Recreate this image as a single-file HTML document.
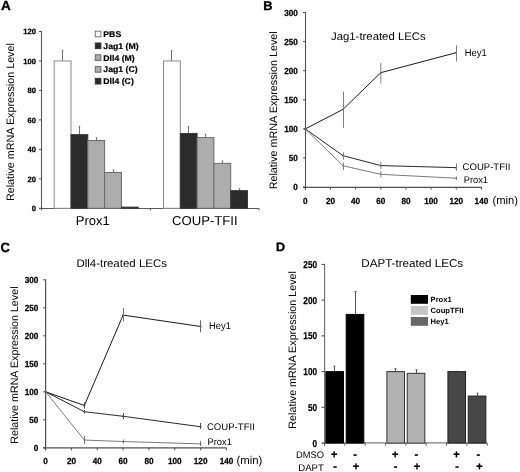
<!DOCTYPE html>
<html><head><meta charset="utf-8"><style>
html,body{margin:0;padding:0;background:#fff;}
body{width:520px;height:472px;overflow:hidden;}
svg{display:block;text-rendering:geometricPrecision;font-family:"Liberation Sans",sans-serif;filter:grayscale(1);}
</style></head><body>
<svg width="520" height="472" viewBox="0 0 520 472">
<rect width="520" height="472" fill="#fff"/>
<text transform="translate(1,10.3) scale(1.03,1)" font-size="13.2" font-weight="bold" text-anchor="start" fill="#000" stroke="#000" stroke-width="0.3" >A</text>
<line x1="41.5" y1="31" x2="41.5" y2="210.3" stroke="#5a5a5a" stroke-width="1.1" />
<line x1="39" y1="208.3" x2="41.5" y2="208.3" stroke="#505050" stroke-width="1" />
<text x="36" y="211" font-size="7.6" font-weight="bold" text-anchor="end" fill="#000" stroke="#000" stroke-width="0.25" >0</text>
<line x1="39" y1="178.83" x2="41.5" y2="178.83" stroke="#505050" stroke-width="1" />
<text x="36" y="181.53" font-size="7.6" font-weight="bold" text-anchor="end" fill="#000" stroke="#000" stroke-width="0.25" >20</text>
<line x1="39" y1="149.37" x2="41.5" y2="149.37" stroke="#505050" stroke-width="1" />
<text x="36" y="152.07" font-size="7.6" font-weight="bold" text-anchor="end" fill="#000" stroke="#000" stroke-width="0.25" >40</text>
<line x1="39" y1="119.9" x2="41.5" y2="119.9" stroke="#505050" stroke-width="1" />
<text x="36" y="122.6" font-size="7.6" font-weight="bold" text-anchor="end" fill="#000" stroke="#000" stroke-width="0.25" >60</text>
<line x1="39" y1="90.44" x2="41.5" y2="90.44" stroke="#505050" stroke-width="1" />
<text x="36" y="93.14" font-size="7.6" font-weight="bold" text-anchor="end" fill="#000" stroke="#000" stroke-width="0.25" >80</text>
<line x1="39" y1="60.97" x2="41.5" y2="60.97" stroke="#505050" stroke-width="1" />
<text x="36" y="63.67" font-size="7.6" font-weight="bold" text-anchor="end" fill="#000" stroke="#000" stroke-width="0.25" >100</text>
<line x1="39" y1="31.5" x2="41.5" y2="31.5" stroke="#505050" stroke-width="1" />
<text x="36" y="34.2" font-size="7.6" font-weight="bold" text-anchor="end" fill="#000" stroke="#000" stroke-width="0.25" >120</text>
<line x1="39" y1="208.5" x2="259" y2="208.5" stroke="#5a5a5a" stroke-width="1.1" />
<line x1="150.5" y1="208.3" x2="150.5" y2="210.3" stroke="#505050" stroke-width="1" />
<line x1="259" y1="208.3" x2="259" y2="210.3" stroke="#505050" stroke-width="1" />
<text transform="translate(13.5,122.1) rotate(-90)" font-size="10.77" font-weight="normal" text-anchor="middle" fill="#000">Relative mRNA Expression Level</text>
<line x1="62.5" y1="60.97" x2="62.5" y2="50.66" stroke="#707070" stroke-width="1" />
<line x1="61.7" y1="50.66" x2="63.3" y2="50.66" stroke="#707070" stroke-width="1" />
<rect x="54.2" y="60.97" width="16.8" height="147.33" fill="#ffffff" stroke="#8a8a8a" stroke-width="1"/>
<line x1="79.5" y1="134.63" x2="79.5" y2="126.24" stroke="#707070" stroke-width="1" />
<line x1="78.7" y1="126.24" x2="80.3" y2="126.24" stroke="#707070" stroke-width="1" />
<rect x="71" y="134.63" width="16.8" height="73.67" fill="#2b2b2b" stroke="#3a3a3a" stroke-width="1"/>
<line x1="96.5" y1="140.53" x2="96.5" y2="137.73" stroke="#707070" stroke-width="1" />
<line x1="95.7" y1="137.73" x2="97.3" y2="137.73" stroke="#707070" stroke-width="1" />
<rect x="87.8" y="140.53" width="16.8" height="67.77" fill="#adadad" stroke="#6a6a6a" stroke-width="1"/>
<line x1="113.5" y1="172.5" x2="113.5" y2="169.99" stroke="#707070" stroke-width="1" />
<line x1="112.7" y1="169.99" x2="114.3" y2="169.99" stroke="#707070" stroke-width="1" />
<rect x="104.6" y="172.5" width="16.8" height="35.8" fill="#adadad" stroke="#6a6a6a" stroke-width="1"/>
<rect x="121.4" y="207.12" width="16.8" height="1.18" fill="#2b2b2b" stroke="#3a3a3a" stroke-width="1"/>
<line x1="171.5" y1="60.97" x2="171.5" y2="50.66" stroke="#707070" stroke-width="1" />
<line x1="170.7" y1="50.66" x2="172.3" y2="50.66" stroke="#707070" stroke-width="1" />
<rect x="163.5" y="60.97" width="16.8" height="147.33" fill="#ffffff" stroke="#8a8a8a" stroke-width="1"/>
<line x1="188.5" y1="133.46" x2="188.5" y2="126.68" stroke="#707070" stroke-width="1" />
<line x1="187.7" y1="126.68" x2="189.3" y2="126.68" stroke="#707070" stroke-width="1" />
<rect x="180.3" y="133.46" width="16.8" height="74.84" fill="#2b2b2b" stroke="#3a3a3a" stroke-width="1"/>
<line x1="205.5" y1="137.58" x2="205.5" y2="134.34" stroke="#707070" stroke-width="1" />
<line x1="204.7" y1="134.34" x2="206.3" y2="134.34" stroke="#707070" stroke-width="1" />
<rect x="197.1" y="137.58" width="16.8" height="70.72" fill="#adadad" stroke="#6a6a6a" stroke-width="1"/>
<line x1="222.5" y1="163.36" x2="222.5" y2="161.01" stroke="#707070" stroke-width="1" />
<line x1="221.7" y1="161.01" x2="223.3" y2="161.01" stroke="#707070" stroke-width="1" />
<rect x="213.9" y="163.36" width="16.8" height="44.94" fill="#adadad" stroke="#6a6a6a" stroke-width="1"/>
<line x1="239.5" y1="190.62" x2="239.5" y2="188.85" stroke="#707070" stroke-width="1" />
<line x1="238.7" y1="188.85" x2="240.3" y2="188.85" stroke="#707070" stroke-width="1" />
<rect x="230.7" y="190.62" width="16.8" height="17.68" fill="#2b2b2b" stroke="#3a3a3a" stroke-width="1"/>
<rect x="95.3" y="31.2" width="5.6" height="5.6" fill="#ffffff" stroke="#777" stroke-width="1"/>
<text transform="translate(103.3,37) scale(1.04,1)" font-size="8.4" font-weight="bold" text-anchor="start" fill="#000" stroke="#000" stroke-width="0.2" >PBS</text>
<rect x="95.3" y="43" width="5.6" height="5.6" fill="#2b2b2b" stroke="#333" stroke-width="1"/>
<text transform="translate(103.3,48.8) scale(1.04,1)" font-size="8.4" font-weight="bold" text-anchor="start" fill="#000" stroke="#000" stroke-width="0.2" >Jag1 (M)</text>
<rect x="95.3" y="54.8" width="5.6" height="5.6" fill="#adadad" stroke="#666" stroke-width="1"/>
<text transform="translate(103.3,60.6) scale(1.04,1)" font-size="8.4" font-weight="bold" text-anchor="start" fill="#000" stroke="#000" stroke-width="0.2" >Dll4 (M)</text>
<rect x="95.3" y="66.6" width="5.6" height="5.6" fill="#adadad" stroke="#666" stroke-width="1"/>
<text transform="translate(103.3,72.4) scale(1.04,1)" font-size="8.4" font-weight="bold" text-anchor="start" fill="#000" stroke="#000" stroke-width="0.2" >Jag1 (C)</text>
<rect x="95.3" y="78.4" width="5.6" height="5.6" fill="#2b2b2b" stroke="#333" stroke-width="1"/>
<text transform="translate(103.3,84.2) scale(1.04,1)" font-size="8.4" font-weight="bold" text-anchor="start" fill="#000" stroke="#000" stroke-width="0.2" >Dll4 (C)</text>
<text transform="translate(92.8,224.8) scale(1.01,1)" font-size="12.9" font-weight="normal" text-anchor="middle" fill="#000" >Prox1</text>
<text transform="translate(204.8,224.8) scale(1.02,1)" font-size="12.9" font-weight="normal" text-anchor="middle" fill="#000" >COUP-TFII</text>
<text transform="translate(263.2,10.3) scale(1.02,1)" font-size="12.6" font-weight="bold" text-anchor="start" fill="#000" stroke="#000" stroke-width="0.35" >B</text>
<line x1="305.5" y1="12" x2="305.5" y2="189.6" stroke="#505050" stroke-width="1.1" />
<line x1="303" y1="187.1" x2="305.3" y2="187.1" stroke="#505050" stroke-width="1" />
<text transform="translate(297.8,190.2) scale(0.93,1)" font-size="8.8" font-weight="bold" text-anchor="end" fill="#000" stroke="#000" stroke-width="0.25" >0</text>
<line x1="303" y1="158" x2="305.3" y2="158" stroke="#505050" stroke-width="1" />
<text transform="translate(297.8,161.1) scale(0.93,1)" font-size="8.8" font-weight="bold" text-anchor="end" fill="#000" stroke="#000" stroke-width="0.25" >50</text>
<line x1="303" y1="128.9" x2="305.3" y2="128.9" stroke="#505050" stroke-width="1" />
<text transform="translate(297.8,132) scale(0.93,1)" font-size="8.8" font-weight="bold" text-anchor="end" fill="#000" stroke="#000" stroke-width="0.25" >100</text>
<line x1="303" y1="99.8" x2="305.3" y2="99.8" stroke="#505050" stroke-width="1" />
<text transform="translate(297.8,102.9) scale(0.93,1)" font-size="8.8" font-weight="bold" text-anchor="end" fill="#000" stroke="#000" stroke-width="0.25" >150</text>
<line x1="303" y1="70.7" x2="305.3" y2="70.7" stroke="#505050" stroke-width="1" />
<text transform="translate(297.8,73.8) scale(0.93,1)" font-size="8.8" font-weight="bold" text-anchor="end" fill="#000" stroke="#000" stroke-width="0.25" >200</text>
<line x1="303" y1="41.6" x2="305.3" y2="41.6" stroke="#505050" stroke-width="1" />
<text transform="translate(297.8,44.7) scale(0.93,1)" font-size="8.8" font-weight="bold" text-anchor="end" fill="#000" stroke="#000" stroke-width="0.25" >250</text>
<line x1="303" y1="12.5" x2="305.3" y2="12.5" stroke="#505050" stroke-width="1" />
<text transform="translate(297.8,15.6) scale(0.93,1)" font-size="8.8" font-weight="bold" text-anchor="end" fill="#000" stroke="#000" stroke-width="0.25" >300</text>
<line x1="303" y1="187.4" x2="481.42" y2="187.4" stroke="#505050" stroke-width="1.2" />
<line x1="305.3" y1="187.1" x2="305.3" y2="189.6" stroke="#505050" stroke-width="1" />
<text transform="translate(305.3,203.7) scale(0.93,1)" font-size="8.8" font-weight="bold" text-anchor="middle" fill="#000" stroke="#000" stroke-width="0.25" >0</text>
<line x1="330.46" y1="187.1" x2="330.46" y2="189.6" stroke="#505050" stroke-width="1" />
<text transform="translate(330.46,203.7) scale(0.93,1)" font-size="8.8" font-weight="bold" text-anchor="middle" fill="#000" stroke="#000" stroke-width="0.25" >20</text>
<line x1="355.62" y1="187.1" x2="355.62" y2="189.6" stroke="#505050" stroke-width="1" />
<text transform="translate(355.62,203.7) scale(0.93,1)" font-size="8.8" font-weight="bold" text-anchor="middle" fill="#000" stroke="#000" stroke-width="0.25" >40</text>
<line x1="380.78" y1="187.1" x2="380.78" y2="189.6" stroke="#505050" stroke-width="1" />
<text transform="translate(380.78,203.7) scale(0.93,1)" font-size="8.8" font-weight="bold" text-anchor="middle" fill="#000" stroke="#000" stroke-width="0.25" >60</text>
<line x1="405.94" y1="187.1" x2="405.94" y2="189.6" stroke="#505050" stroke-width="1" />
<text transform="translate(405.94,203.7) scale(0.93,1)" font-size="8.8" font-weight="bold" text-anchor="middle" fill="#000" stroke="#000" stroke-width="0.25" >80</text>
<line x1="431.1" y1="187.1" x2="431.1" y2="189.6" stroke="#505050" stroke-width="1" />
<text transform="translate(431.1,203.7) scale(0.93,1)" font-size="8.8" font-weight="bold" text-anchor="middle" fill="#000" stroke="#000" stroke-width="0.25" >100</text>
<line x1="456.26" y1="187.1" x2="456.26" y2="189.6" stroke="#505050" stroke-width="1" />
<text transform="translate(456.26,203.7) scale(0.93,1)" font-size="8.8" font-weight="bold" text-anchor="middle" fill="#000" stroke="#000" stroke-width="0.25" >120</text>
<line x1="481.42" y1="187.1" x2="481.42" y2="189.6" stroke="#505050" stroke-width="1" />
<text transform="translate(481.42,203.7) scale(0.93,1)" font-size="8.8" font-weight="bold" text-anchor="middle" fill="#000" stroke="#000" stroke-width="0.25" >140</text>
<text x="492.5" y="204.3" font-size="11.2" font-weight="normal" text-anchor="start" fill="#000" >(min)</text>
<text transform="translate(331,39.6) scale(1.032,1)" font-size="11" font-weight="normal" text-anchor="start" fill="#000" >Jag1-treated LECs</text>
<text transform="translate(276.9,110.3) rotate(-90)" font-size="10.78" font-weight="normal" text-anchor="middle" fill="#000">Relative mRNA Expression Level</text>
<polyline points="305.3,128.9 343.04,109.34 380.78,72.68 456.26,52.66" fill="none" stroke="#1a1a1a" stroke-width="1.0" stroke-linejoin="miter"/>
<circle cx="305.3" cy="128.9" r="0.9" fill="#1a1a1a"/>
<circle cx="343.04" cy="109.34" r="0.9" fill="#1a1a1a"/>
<circle cx="380.78" cy="72.68" r="0.9" fill="#1a1a1a"/>
<circle cx="456.26" cy="52.66" r="0.9" fill="#1a1a1a"/>
<line x1="343.5" y1="91.7" x2="343.5" y2="127.8" stroke="#808080" stroke-width="1" />
<line x1="380.8" y1="63.1" x2="380.8" y2="83.4" stroke="#909090" stroke-width="1.1" />
<line x1="456.5" y1="45.2" x2="456.5" y2="61.5" stroke="#808080" stroke-width="1" />
<polyline points="305.3,128.9 343.04,155.67 380.78,165.57 456.26,167.66" fill="none" stroke="#2a2a2a" stroke-width="1.0" stroke-linejoin="miter"/>
<circle cx="305.3" cy="128.9" r="0.9" fill="#2a2a2a"/>
<circle cx="343.04" cy="155.67" r="0.9" fill="#2a2a2a"/>
<circle cx="380.78" cy="165.57" r="0.9" fill="#2a2a2a"/>
<circle cx="456.26" cy="167.66" r="0.9" fill="#2a2a2a"/>
<line x1="343.5" y1="152.3" x2="343.5" y2="159.7" stroke="#808080" stroke-width="1" />
<line x1="380.8" y1="162" x2="380.8" y2="169" stroke="#909090" stroke-width="1.1" />
<line x1="456.5" y1="163.5" x2="456.5" y2="170.8" stroke="#808080" stroke-width="1" />
<polyline points="305.3,128.9 343.04,165.74 380.78,174.35 456.26,178.2" fill="none" stroke="#7a7a7a" stroke-width="1" stroke-linejoin="miter"/>
<circle cx="305.3" cy="128.9" r="0.9" fill="#7a7a7a"/>
<circle cx="343.04" cy="165.74" r="0.9" fill="#7a7a7a"/>
<circle cx="380.78" cy="174.35" r="0.9" fill="#7a7a7a"/>
<circle cx="456.26" cy="178.2" r="0.9" fill="#7a7a7a"/>
<line x1="343.5" y1="162.5" x2="343.5" y2="170" stroke="#808080" stroke-width="1" />
<line x1="380.8" y1="171" x2="380.8" y2="177.5" stroke="#909090" stroke-width="1.1" />
<line x1="456.5" y1="176.5" x2="456.5" y2="180" stroke="#808080" stroke-width="1" />
<text transform="translate(464.7,55.5) scale(0.965,1)" font-size="9.8" font-weight="normal" text-anchor="start" fill="#000" >Hey1</text>
<text transform="translate(462.6,170.3) scale(0.995,1)" font-size="9.6" font-weight="normal" text-anchor="start" fill="#000" >COUP-TFII</text>
<text transform="translate(463.8,183) scale(0.965,1)" font-size="9.6" font-weight="normal" text-anchor="start" fill="#000" >Prox1</text>
<text transform="translate(0.6,252.1) scale(0.97,1)" font-size="13.4" font-weight="bold" text-anchor="start" fill="#000" stroke="#000" stroke-width="0.35" >C</text>
<line x1="45.6" y1="279.3" x2="45.6" y2="450.3" stroke="#505050" stroke-width="1.2" />
<line x1="43.2" y1="447.8" x2="45.6" y2="447.8" stroke="#505050" stroke-width="1" />
<text transform="translate(38.3,450.9) scale(0.93,1)" font-size="8.8" font-weight="bold" text-anchor="end" fill="#000" stroke="#000" stroke-width="0.25" >0</text>
<line x1="43.2" y1="419.8" x2="45.6" y2="419.8" stroke="#505050" stroke-width="1" />
<text transform="translate(38.3,422.9) scale(0.93,1)" font-size="8.8" font-weight="bold" text-anchor="end" fill="#000" stroke="#000" stroke-width="0.25" >50</text>
<line x1="43.2" y1="391.8" x2="45.6" y2="391.8" stroke="#505050" stroke-width="1" />
<text transform="translate(38.3,394.9) scale(0.93,1)" font-size="8.8" font-weight="bold" text-anchor="end" fill="#000" stroke="#000" stroke-width="0.25" >100</text>
<line x1="43.2" y1="363.8" x2="45.6" y2="363.8" stroke="#505050" stroke-width="1" />
<text transform="translate(38.3,366.9) scale(0.93,1)" font-size="8.8" font-weight="bold" text-anchor="end" fill="#000" stroke="#000" stroke-width="0.25" >150</text>
<line x1="43.2" y1="335.8" x2="45.6" y2="335.8" stroke="#505050" stroke-width="1" />
<text transform="translate(38.3,338.9) scale(0.93,1)" font-size="8.8" font-weight="bold" text-anchor="end" fill="#000" stroke="#000" stroke-width="0.25" >200</text>
<line x1="43.2" y1="307.8" x2="45.6" y2="307.8" stroke="#505050" stroke-width="1" />
<text transform="translate(38.3,310.9) scale(0.93,1)" font-size="8.8" font-weight="bold" text-anchor="end" fill="#000" stroke="#000" stroke-width="0.25" >250</text>
<line x1="43.2" y1="279.8" x2="45.6" y2="279.8" stroke="#505050" stroke-width="1" />
<text transform="translate(38.3,282.9) scale(0.93,1)" font-size="8.8" font-weight="bold" text-anchor="end" fill="#000" stroke="#000" stroke-width="0.25" >300</text>
<line x1="43" y1="447.9" x2="226.48" y2="447.9" stroke="#505050" stroke-width="1.2" />
<line x1="45.6" y1="447.8" x2="45.6" y2="450.3" stroke="#505050" stroke-width="1" />
<text transform="translate(45.6,463.6) scale(0.93,1)" font-size="8.8" font-weight="bold" text-anchor="middle" fill="#000" stroke="#000" stroke-width="0.25" >0</text>
<line x1="71.44" y1="447.8" x2="71.44" y2="450.3" stroke="#505050" stroke-width="1" />
<text transform="translate(71.44,463.6) scale(0.93,1)" font-size="8.8" font-weight="bold" text-anchor="middle" fill="#000" stroke="#000" stroke-width="0.25" >20</text>
<line x1="97.28" y1="447.8" x2="97.28" y2="450.3" stroke="#505050" stroke-width="1" />
<text transform="translate(97.28,463.6) scale(0.93,1)" font-size="8.8" font-weight="bold" text-anchor="middle" fill="#000" stroke="#000" stroke-width="0.25" >40</text>
<line x1="123.12" y1="447.8" x2="123.12" y2="450.3" stroke="#505050" stroke-width="1" />
<text transform="translate(123.12,463.6) scale(0.93,1)" font-size="8.8" font-weight="bold" text-anchor="middle" fill="#000" stroke="#000" stroke-width="0.25" >60</text>
<line x1="148.96" y1="447.8" x2="148.96" y2="450.3" stroke="#505050" stroke-width="1" />
<text transform="translate(148.96,463.6) scale(0.93,1)" font-size="8.8" font-weight="bold" text-anchor="middle" fill="#000" stroke="#000" stroke-width="0.25" >80</text>
<line x1="174.8" y1="447.8" x2="174.8" y2="450.3" stroke="#505050" stroke-width="1" />
<text transform="translate(174.8,463.6) scale(0.93,1)" font-size="8.8" font-weight="bold" text-anchor="middle" fill="#000" stroke="#000" stroke-width="0.25" >100</text>
<line x1="200.64" y1="447.8" x2="200.64" y2="450.3" stroke="#505050" stroke-width="1" />
<text transform="translate(200.64,463.6) scale(0.93,1)" font-size="8.8" font-weight="bold" text-anchor="middle" fill="#000" stroke="#000" stroke-width="0.25" >120</text>
<line x1="226.48" y1="447.8" x2="226.48" y2="450.3" stroke="#505050" stroke-width="1" />
<text transform="translate(226.48,463.6) scale(0.93,1)" font-size="8.8" font-weight="bold" text-anchor="middle" fill="#000" stroke="#000" stroke-width="0.25" >140</text>
<text x="236.4" y="464.2" font-size="11.4" font-weight="normal" text-anchor="start" fill="#000" >(min)</text>
<text transform="translate(76.4,267.3) scale(1.034,1)" font-size="11.1" font-weight="normal" text-anchor="start" fill="#000" >Dll4-treated LECs</text>
<text transform="translate(18.1,365.1) rotate(-90)" font-size="10.73" font-weight="normal" text-anchor="middle" fill="#000">Relative mRNA Expression Level</text>
<polyline points="45.6,391.8 84.36,405.46 123.12,315.08 200.64,326.5" fill="none" stroke="#1a1a1a" stroke-width="1.0" stroke-linejoin="miter"/>
<circle cx="45.6" cy="391.8" r="0.9" fill="#1a1a1a"/>
<circle cx="84.36" cy="405.46" r="0.9" fill="#1a1a1a"/>
<circle cx="123.12" cy="315.08" r="0.9" fill="#1a1a1a"/>
<circle cx="200.64" cy="326.5" r="0.9" fill="#1a1a1a"/>
<line x1="84.5" y1="402.5" x2="84.5" y2="408.5" stroke="#444" stroke-width="1" />
<line x1="123.5" y1="308" x2="123.5" y2="321.6" stroke="#777" stroke-width="1" />
<line x1="200.5" y1="320.3" x2="200.5" y2="332.3" stroke="#666" stroke-width="1" />
<polyline points="45.6,391.8 84.36,411.74 123.12,416.27 200.64,426.74" fill="none" stroke="#2a2a2a" stroke-width="1.0" stroke-linejoin="miter"/>
<circle cx="45.6" cy="391.8" r="0.9" fill="#2a2a2a"/>
<circle cx="84.36" cy="411.74" r="0.9" fill="#2a2a2a"/>
<circle cx="123.12" cy="416.27" r="0.9" fill="#2a2a2a"/>
<circle cx="200.64" cy="426.74" r="0.9" fill="#2a2a2a"/>
<line x1="84.5" y1="410" x2="84.5" y2="413.5" stroke="#444" stroke-width="1" />
<line x1="123.5" y1="413" x2="123.5" y2="419.4" stroke="#555" stroke-width="1" />
<line x1="200.5" y1="423" x2="200.5" y2="429" stroke="#555" stroke-width="1" />
<polyline points="45.6,391.8 84.36,440.07 123.12,441.53 200.64,443.88" fill="none" stroke="#7a7a7a" stroke-width="1" stroke-linejoin="miter"/>
<circle cx="45.6" cy="391.8" r="0.9" fill="#7a7a7a"/>
<circle cx="84.36" cy="440.07" r="0.9" fill="#7a7a7a"/>
<circle cx="123.12" cy="441.53" r="0.9" fill="#7a7a7a"/>
<circle cx="200.64" cy="443.88" r="0.9" fill="#7a7a7a"/>
<line x1="84.5" y1="436" x2="84.5" y2="444" stroke="#777" stroke-width="1" />
<line x1="123.5" y1="439.5" x2="123.5" y2="443.5" stroke="#777" stroke-width="1" />
<line x1="200.5" y1="441" x2="200.5" y2="446" stroke="#777" stroke-width="1" />
<text transform="translate(209.1,328.7) scale(0.955,1)" font-size="9.8" font-weight="normal" text-anchor="start" fill="#000" >Hey1</text>
<text x="206.9" y="429.7" font-size="9.6" font-weight="normal" text-anchor="start" fill="#000" >COUP-TFII</text>
<text transform="translate(207.6,445.4) scale(0.965,1)" font-size="9.6" font-weight="normal" text-anchor="start" fill="#000" >Prox1</text>
<text transform="translate(276,251.3) scale(1.05,1)" font-size="12.0" font-weight="bold" text-anchor="start" fill="#000" stroke="#000" stroke-width="0.35" >D</text>
<line x1="324.6" y1="263.9" x2="324.6" y2="445.6" stroke="#6a6a6a" stroke-width="1.1" />
<line x1="321.5" y1="443.1" x2="324.5" y2="443.1" stroke="#404040" stroke-width="1" />
<text transform="translate(317,446.6) scale(0.82,1)" font-size="10" font-weight="bold" text-anchor="end" fill="#000" stroke="#000" stroke-width="0.25" >0</text>
<line x1="321.5" y1="407.36" x2="324.5" y2="407.36" stroke="#404040" stroke-width="1" />
<text transform="translate(317,410.86) scale(0.82,1)" font-size="10" font-weight="bold" text-anchor="end" fill="#000" stroke="#000" stroke-width="0.25" >50</text>
<line x1="321.5" y1="371.62" x2="324.5" y2="371.62" stroke="#404040" stroke-width="1" />
<text transform="translate(317,375.12) scale(0.82,1)" font-size="10" font-weight="bold" text-anchor="end" fill="#000" stroke="#000" stroke-width="0.25" >100</text>
<line x1="321.5" y1="335.88" x2="324.5" y2="335.88" stroke="#404040" stroke-width="1" />
<text transform="translate(317,339.38) scale(0.82,1)" font-size="10" font-weight="bold" text-anchor="end" fill="#000" stroke="#000" stroke-width="0.25" >150</text>
<line x1="321.5" y1="300.14" x2="324.5" y2="300.14" stroke="#404040" stroke-width="1" />
<text transform="translate(317,303.64) scale(0.82,1)" font-size="10" font-weight="bold" text-anchor="end" fill="#000" stroke="#000" stroke-width="0.25" >200</text>
<line x1="321.5" y1="264.4" x2="324.5" y2="264.4" stroke="#404040" stroke-width="1" />
<text transform="translate(317,267.9) scale(0.82,1)" font-size="10" font-weight="bold" text-anchor="end" fill="#000" stroke="#000" stroke-width="0.25" >250</text>
<line x1="322" y1="442.9" x2="487.22" y2="442.9" stroke="#7a7a7a" stroke-width="1.3" />
<line x1="324.5" y1="443.1" x2="324.5" y2="445.6" stroke="#505050" stroke-width="1" />
<line x1="344.84" y1="443.1" x2="344.84" y2="445.6" stroke="#505050" stroke-width="1" />
<line x1="365.18" y1="443.1" x2="365.18" y2="445.6" stroke="#505050" stroke-width="1" />
<line x1="385.52" y1="443.1" x2="385.52" y2="445.6" stroke="#505050" stroke-width="1" />
<line x1="405.86" y1="443.1" x2="405.86" y2="445.6" stroke="#505050" stroke-width="1" />
<line x1="426.2" y1="443.1" x2="426.2" y2="445.6" stroke="#505050" stroke-width="1" />
<line x1="446.54" y1="443.1" x2="446.54" y2="445.6" stroke="#505050" stroke-width="1" />
<line x1="466.88" y1="443.1" x2="466.88" y2="445.6" stroke="#505050" stroke-width="1" />
<line x1="487.22" y1="443.1" x2="487.22" y2="445.6" stroke="#505050" stroke-width="1" />
<line x1="334.5" y1="371.62" x2="334.5" y2="366.26" stroke="#555" stroke-width="1" />
<line x1="333.5" y1="366.26" x2="335.5" y2="366.26" stroke="#555" stroke-width="1" />
<rect x="325.87" y="371.62" width="17.6" height="71.48" fill="#000000" stroke="#000" stroke-width="1"/>
<line x1="355.5" y1="314.44" x2="355.5" y2="291.56" stroke="#555" stroke-width="1" />
<line x1="354.5" y1="291.56" x2="356.5" y2="291.56" stroke="#555" stroke-width="1" />
<rect x="346.21" y="314.44" width="17.6" height="128.66" fill="#000000" stroke="#000" stroke-width="1"/>
<line x1="395.5" y1="371.62" x2="395.5" y2="368.76" stroke="#555" stroke-width="1" />
<line x1="394.5" y1="368.76" x2="396.5" y2="368.76" stroke="#555" stroke-width="1" />
<rect x="386.89" y="371.62" width="17.6" height="71.48" fill="#b2b2b2" stroke="#333" stroke-width="1"/>
<line x1="416.5" y1="373.34" x2="416.5" y2="369.76" stroke="#555" stroke-width="1" />
<line x1="415.5" y1="369.76" x2="417.5" y2="369.76" stroke="#555" stroke-width="1" />
<rect x="407.23" y="373.34" width="17.6" height="69.76" fill="#b2b2b2" stroke="#333" stroke-width="1"/>
<line x1="456.5" y1="371.62" x2="456.5" y2="371.33" stroke="#555" stroke-width="1" />
<line x1="455.5" y1="371.33" x2="457.5" y2="371.33" stroke="#555" stroke-width="1" />
<rect x="447.91" y="371.62" width="17.6" height="71.48" fill="#474747" stroke="#222" stroke-width="1"/>
<line x1="477.5" y1="396.07" x2="477.5" y2="393.21" stroke="#555" stroke-width="1" />
<line x1="476.5" y1="393.21" x2="478.5" y2="393.21" stroke="#555" stroke-width="1" />
<rect x="468.25" y="396.07" width="17.6" height="47.03" fill="#474747" stroke="#222" stroke-width="1"/>
<text transform="translate(361.3,267.3) scale(1.022,1)" font-size="11.35" font-weight="normal" text-anchor="start" fill="#000" >DAPT-treated LECs</text>
<text transform="translate(296,349.9) rotate(-90)" font-size="10.74" font-weight="normal" text-anchor="middle" fill="#000">Relative mRNA Expression Level</text>
<rect x="410.8" y="295" width="17.2" height="8.8" fill="#000000" stroke="none" stroke-width="1"/>
<text x="430.6" y="302.2" font-size="7.6" font-weight="bold" text-anchor="start" fill="#000" >Prox1</text>
<rect x="410.8" y="306" width="17.2" height="8.8" fill="#c6c6c6" stroke="none" stroke-width="1"/>
<text x="430.6" y="313.2" font-size="7.6" font-weight="bold" text-anchor="start" fill="#000" >CoupTFII</text>
<rect x="410.8" y="317" width="17.2" height="8.8" fill="#686868" stroke="none" stroke-width="1"/>
<text x="430.6" y="324.2" font-size="7.6" font-weight="bold" text-anchor="start" fill="#000" >Hey1</text>
<text transform="translate(323.9,458.3) scale(0.97,1)" font-size="9.6" font-weight="normal" text-anchor="end" fill="#000" >DMSO</text>
<text x="323.9" y="470.6" font-size="9.6" font-weight="normal" text-anchor="end" fill="#000" >DAPT</text>
<text x="334.2" y="458" font-size="11" font-weight="bold" text-anchor="middle" fill="#000" stroke="#000" stroke-width="0.3" >+</text>
<text x="355.1" y="458" font-size="11" font-weight="bold" text-anchor="middle" fill="#000" stroke="#000" stroke-width="0.3" >-</text>
<text x="395.2" y="458" font-size="11" font-weight="bold" text-anchor="middle" fill="#000" stroke="#000" stroke-width="0.3" >+</text>
<text x="416.3" y="458" font-size="11" font-weight="bold" text-anchor="middle" fill="#000" stroke="#000" stroke-width="0.3" >-</text>
<text x="456.4" y="458" font-size="11" font-weight="bold" text-anchor="middle" fill="#000" stroke="#000" stroke-width="0.3" >+</text>
<text x="478.3" y="458" font-size="11" font-weight="bold" text-anchor="middle" fill="#000" stroke="#000" stroke-width="0.3" >-</text>
<text x="335" y="469.5" font-size="11" font-weight="bold" text-anchor="middle" fill="#000" stroke="#000" stroke-width="0.3" >-</text>
<text x="355.9" y="469.5" font-size="11" font-weight="bold" text-anchor="middle" fill="#000" stroke="#000" stroke-width="0.3" >+</text>
<text x="395.7" y="469.5" font-size="11" font-weight="bold" text-anchor="middle" fill="#000" stroke="#000" stroke-width="0.3" >-</text>
<text x="417" y="469.5" font-size="11" font-weight="bold" text-anchor="middle" fill="#000" stroke="#000" stroke-width="0.3" >+</text>
<text x="457" y="469.5" font-size="11" font-weight="bold" text-anchor="middle" fill="#000" stroke="#000" stroke-width="0.3" >-</text>
<text x="479.4" y="469.5" font-size="11" font-weight="bold" text-anchor="middle" fill="#000" stroke="#000" stroke-width="0.3" >+</text>
</svg>
</body></html>
